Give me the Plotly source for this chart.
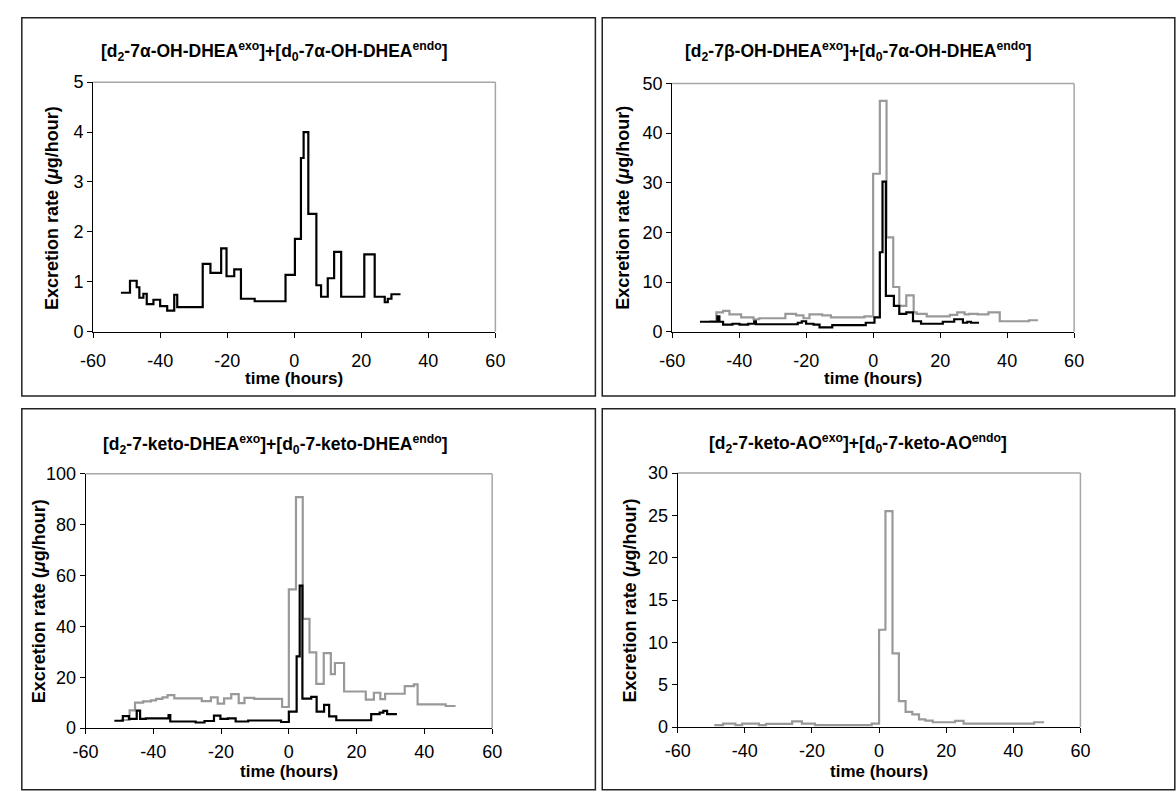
import plotly.graph_objects as go

W, H = 1176, 793

# ---------------- data (hours, µg/hour) ----------------
# Panel 1: 7α-OH-DHEA (black)
p1_t = [-51.7, -49, -47, -46.2, -45, -44, -42, -40, -37.9, -35.8, -34.9, -27.3, -25, -21.8, -20.2,
        -17.9, -15.9, -11.8, -2.6, 0.2, 2, 2.8, 4.2, 6.6, 8, 10, 11.9, 14, 20.9, 24, 27, 27.9, 29, 31.7]
p1_v = [0.78, 1.02, 0.89, 0.68, 0.76, 0.55, 0.64, 0.51, 0.42, 0.74, 0.49, 1.36, 1.18, 1.67, 1.11,
        1.25, 0.66, 0.61, 1.14, 1.86, 3.48, 4.0, 2.36, 0.93, 0.70, 1.07, 1.6, 0.70, 1.55, 0.70, 0.59, 0.66, 0.75]

# Panel 2: 7β-OH-DHEA exo (gray) + 7α-OH-DHEA endo (black)
p2_black_t = [-51.7, -46.5, -45.9, -44.8, -42, -39.9, -37.3, -35.5, -35, -22.5, -21.3, -20, -17.8, -16,
              -12.2, -2.2, 0.4, 2, 2.8, 3.8, 6.2, 7.8, 9.9, 11.9, 14.3, 20.8, 24.2, 26.8, 28.1, 29.2, 31.6]
p2_black_v = [2.0, 3.1, 2.0, 1.4, 1.6, 1.4, 1.6, 2.1, 1.5, 1.8, 2.1, 1.6, 1.4, 0.85,
              1.3, 1.8, 2.9, 16, 30.2, 7.2, 5.2, 3.6, 3.9, 2.1, 1.6, 2.0, 2.5, 1.8, 2.0, 1.8]
p2_gray_t = [-48.9, -46.8, -44.8, -42.9, -39.4, -35.7, -34, -26.2, -23, -20.8, -19, -15.2, -12.6, -2.6,
             0, 2, 4, 6, 7.8, 9.9, 12.1, 13, 16, 22.9, 25.1, 27.3, 28.6, 31.2, 34.4, 37.8, 46.5, 49.2]
p2_gray_v = [2.1, 3.9, 4.2, 3.5, 2.9, 2.5, 2.7, 3.6, 3.3, 2.7, 3.5, 3.3, 2.9, 3.1,
             31.8, 46.5, 19, 9.0, 5.2, 7.3, 3.9, 3.6, 3.1, 3.4, 3.9, 3.5, 3.6, 3.5, 3.9, 2.1, 2.3]

# Panel 3: 7-keto-DHEA
p3_black_t = [-51.5, -49, -47.2, -44.9, -43.9, -42.2, -35.5, -35, -27.5, -24.9, -22.1, -20.2, -18, -15.7,
              -12, -2.3, 0, 2.3, 3.2, 4, 6.6, 8.2, 10.4, 11.9, 14, 24.3, 26.8, 27.9, 29, 31.9]
p3_black_v = [2.9, 4.7, 3.6, 6.9, 3.6, 3.8, 5.1, 2.6, 2.2, 2.8, 4.9, 3.6, 3.8, 2.6,
              3.0, 2.4, 6.5, 28.2, 56, 11.6, 12.3, 6.5, 9.1, 4.6, 3.1, 5.5, 6.1, 6.8, 5.5]
p3_gray_t = [-49.6, -47, -45.4, -43, -40.7, -39.2, -37.3, -35.8, -33.8, -25.7, -23, -21, -19.1, -17,
             -14.8, -13.1, -10.2, -2, 0, 2.1, 4.1, 6.1, 8.1, 10.3, 12.4, 13.6, 16.3, 22.7, 25.1, 27,
             28.4, 34.2, 36.9, 38, 46.3, 49.2]
p3_gray_v = [3.2, 7.0, 10.0, 10.5, 10.9, 11.5, 12.1, 13.0, 11.7, 10.6, 12.1, 9.6, 11.7, 13.4,
             9.8, 11.9, 11.5, 8.3, 54.5, 90.8, 42.9, 29.8, 17.4, 29.5, 21.2, 25.6, 14.4, 11.2, 13.9, 11.4,
             13.5, 16.5, 17.2, 9.3, 8.7]

# Panel 4: 7-keto-AO (gray)
p4_t = [-49.1, -46.5, -42.8, -40.8, -35.8, -33.7, -25.9, -23, -19.1, -2.2, 0, 1.9, 4, 5.9, 7.9, 9.9,
        11.9, 13.8, 16, 22.6, 25.2, 46.2, 49.2]
p4_v = [0.23, 0.42, 0.23, 0.42, 0.23, 0.38, 0.69, 0.42, 0.23, 0.42, 11.5, 25.5, 8.7, 3.07, 1.8, 1.5,
        0.92, 0.77, 0.58, 0.73, 0.42, 0.58]

x_ticks = [-60, -40, -20, 0, 20, 40, 60]
x_tick_labels = ["-60", "-40", "-20", "0", "20", "40", "60"]

titles = [
    "<b>[d<sub>2</sub>-7α-OH-DHEA<sup>exo</sup>]+[d<sub>0</sub>-7α-OH-DHEA<sup>endo</sup>]</b>",
    "<b>[d<sub>2</sub>-7β-OH-DHEA<sup>exo</sup>]+[d<sub>0</sub>-7α-OH-DHEA<sup>endo</sup>]</b>",
    "<b>[d<sub>2</sub>-7-keto-DHEA<sup>exo</sup>]+[d<sub>0</sub>-7-keto-DHEA<sup>endo</sup>]</b>",
    "<b>[d<sub>2</sub>-7-keto-AO<sup>exo</sup>]+[d<sub>0</sub>-7-keto-AO<sup>endo</sup>]</b>",
]
y_title = "<b>Excretion rate (<i>μ</i>g/hour)</b>"
x_title = "<b>time (hours)</b>"

# ---------------- layout geometry (pixels) ----------------
FONT = "Arial, Liberation Sans, sans-serif"
BLACK = "#000000"
GRAY = "#999999"
FRAME_GRAY = "#a6a6a6"

panels = [
    dict(xpx=(81.7, 492.0), ypx=(330.0, 74.0), yr=[0, 5], dt=1, standoff=8,
         title_xy=(267, 43), ytitle_xy=(40, 203), xtitle_xy=(287, 378)),
    dict(xpx=(672.3, 1082.3), ypx=(330.0, 75.3), yr=[0, 50], dt=10, standoff=8,
         title_xy=(862, 43), ytitle_xy=(622, 203), xtitle_xy=(877, 378)),
    dict(xpx=(74.0, 488.7), ypx=(736.7, 475.7), yr=[0, 100], dt=20, standoff=2,
         title_xy=(268, 446), ytitle_xy=(26, 606), xtitle_xy=(281, 781)),
    dict(xpx=(678.0, 1088.7), ypx=(735.7, 475.0), yr=[0, 30], dt=5, standoff=2,
         title_xy=(862, 445), ytitle_xy=(629, 606), xtitle_xy=(883, 781)),
]

def px(xp):
    return xp / W

def py(yp):
    return 1 - yp / H

fig = go.Figure()

def step(t, v):
    return list(t), list(v) + [v[-1]]

series = [
    (1, p1_t, p1_v, BLACK),
    (2, p2_gray_t, p2_gray_v, GRAY),
    (2, p2_black_t, p2_black_v, BLACK),
    (3, p3_gray_t, p3_gray_v, GRAY),
    (3, p3_black_t, p3_black_v, BLACK),
    (4, p4_t, p4_v, GRAY),
]
for k, t, v, c in series:
    xs, ys = step(t, v)
    sfx = "" if k == 1 else str(k)
    fig.add_trace(go.Scatter(x=xs, y=ys, mode="lines", line=dict(color=c, width=2.2, shape="hv"),
                             xaxis="x" + sfx, yaxis="y" + sfx, showlegend=False, hoverinfo="skip"))

TICK = 18
layout = dict(width=W, height=H, margin=dict(l=0, r=0, t=0, b=0),
              paper_bgcolor="white", plot_bgcolor="white", showlegend=False,
              font=dict(family=FONT, size=16, color="black"))
shapes = []
annotations = []
for i, p in enumerate(panels):
    k = i + 1
    sfx = "" if k == 1 else str(k)
    xd = [px(p["xpx"][0]), px(p["xpx"][1])]
    yd = [py(p["ypx"][0]), py(p["ypx"][1])]
    layout["xaxis" + sfx] = dict(domain=xd, range=[-60, 60], tickvals=x_ticks, ticktext=x_tick_labels,
                                 ticks="outside", ticklen=5, tickcolor=BLACK, showline=True,
                                 linecolor=BLACK, linewidth=1, showgrid=False, zeroline=False,
                                 anchor="y" + sfx, ticklabelstandoff=p["standoff"],
                                 tickfont=dict(size=TICK, family=FONT), fixedrange=True)
    layout["yaxis" + sfx] = dict(domain=yd, range=p["yr"], dtick=p["dt"], ticks="outside",
                                 ticklen=5, tickcolor=BLACK, showline=True, linecolor=BLACK, linewidth=1,
                                 showgrid=False, zeroline=False, anchor="x" + sfx,
                                 tickfont=dict(size=TICK, family=FONT), fixedrange=True)
    xr = "x" + sfx + " domain"
    yr = "y" + sfx + " domain"
    shapes.append(dict(type="line", xref=xr, yref=yr, x0=0, x1=1, y0=1, y1=1,
                       line=dict(color=FRAME_GRAY, width=1.5), layer="below"))
    shapes.append(dict(type="line", xref=xr, yref=yr, x0=1, x1=1, y0=0, y1=1,
                       line=dict(color=FRAME_GRAY, width=1.5), layer="below"))
    tx, ty = p["title_xy"]
    annotations.append(dict(text=titles[i], x=px(tx), y=py(ty), xref="paper", yref="paper",
                            showarrow=False, xanchor="center", yanchor="middle",
                            font=dict(size=17.5, family=FONT)))
    ax_, ay_ = p["ytitle_xy"]
    annotations.append(dict(text=y_title, x=px(ax_), y=py(ay_), xref="paper", yref="paper",
                            showarrow=False, xanchor="center", yanchor="middle", textangle=-90,
                            font=dict(size=18, family=FONT)))
    bx, by = p["xtitle_xy"]
    annotations.append(dict(text=x_title, x=px(bx), y=py(by), xref="paper", yref="paper",
                            showarrow=False, xanchor="center", yanchor="middle",
                            font=dict(size=17, family=FONT)))

for (x0, y0, x1, y1) in [(9, 8, 594, 396), (601, 8, 1185, 396), (9, 409, 594, 800), (601, 409, 1185, 800)]:
    shapes.append(dict(type="rect", xref="paper", yref="paper", x0=px(x0), x1=px(x1), y0=py(y0), y1=py(y1),
                       line=dict(color="#222222", width=1.5), fillcolor="rgba(0,0,0,0)", layer="below"))

layout["shapes"] = shapes
layout["annotations"] = annotations
fig.update_layout(**layout)
fig.write_html("out.html")
